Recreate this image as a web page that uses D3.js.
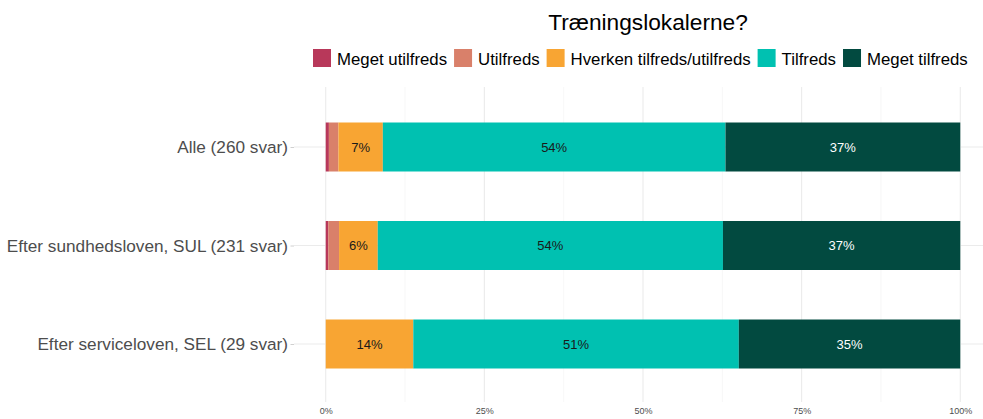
<!DOCTYPE html>
<html>
<head>
<meta charset="utf-8">
<script src="https://cdn.jsdelivr.net/npm/d3@7"></script>
<style>
  body { margin: 0; background: #fff; overflow: hidden; }
  svg { display: block; font-family: "Liberation Sans", Arial, sans-serif; }
</style>
</head>
<body>
<script>
// answer categories, in stacking order
var levels = ["Meget utilfreds", "Utilfreds", "Hverken tilfreds/utilfreds", "Tilfreds", "Meget tilfreds"];
var colors = ["#b8385a", "#d9806a", "#f8a533", "#00c1b1", "#024a40"];
var groups = ["Alle (260 svar)", "Efter sundhedsloven, SUL (231 svar)", "Efter serviceloven, SEL (29 svar)"];

// shares in percent per group (same order as levels)
var alle = [0.5, 1.5, 7.0, 54.0, 37.0];
var sul = [0.4, 1.7, 6.1, 54.4, 37.4];
var sel = [0, 0, 13.8, 51.3, 34.9];

var xTicks = [0, 25, 50, 75, 100];
var xMinor = [12.5, 37.5, 62.5, 87.5];

var rows = [alle, sul, sel];
var W = 983, H = 419;

var svg = d3.select("body").append("svg")
    .attr("width", W)
    .attr("height", H);

var x = d3.scaleLinear().domain([-5, 105]).range([294, 992]);
// band centre positions follow ggplot's discrete scale
var yc = d3.scalePoint().domain(groups).range([147, 344]);

// grid
svg.append("g").selectAll("line.minor")
    .data(xMinor).enter().append("line")
    .attr("x1", function(d) { return x(d) }).attr("x2", function(d) { return x(d) })
    .attr("y1", 87).attr("y2", 402)
    .attr("stroke", "#f2f2f2").attr("stroke-width", 0.6)
svg.append("g").selectAll("line.major")
    .data(xTicks).enter().append("line")
    .attr("x1", function(d) { return x(d) }).attr("x2", function(d) { return x(d) })
    .attr("y1", 87).attr("y2", 402)
    .attr("stroke", "#ebebeb").attr("stroke-width", 1.1)
svg.append("g").selectAll("line.hgrid")
    .data(groups).enter().append("line")
    .attr("x1", 294).attr("x2", 992)
    .attr("y1", function(d) { return yc(d) }).attr("y2", function(d) { return yc(d) })
    .attr("stroke", "#ebebeb").attr("stroke-width", 1.1)

// stacked segments
var barH = 49;
rows.forEach(function(vals, gi) {
    var cum = 0;
    var cy = yc(groups[gi]);
    vals.forEach(function(v, li) {
        var x0 = cum, x1 = cum + v;
        cum = x1;
        if (v <= 0) return;
        svg.append("rect")
            .attr("x", x(x0))
            .attr("y", cy - barH / 2)
            .attr("width", x(x1) - x(x0))
            .attr("height", barH)
            .attr("fill", colors[li])
        if (v >= 3) {
            svg.append("text")
                .attr("x", x((x0 + x1) / 2))
                .attr("y", cy + 4.5)
                .attr("text-anchor", "middle")
                .attr("font-size", 13)
                .attr("fill", li === 4 ? "#ffffff" : "#1a1a1a")
                .text(Math.round(v) + "%")
        }
    })
})

// y axis
var yAxis = svg.append("g")
    .attr("transform", "translate(294,0)")
    .call(d3.axisLeft(yc).tickSize(3.5).tickPadding(2.5))
yAxis.select(".domain").remove()
yAxis.selectAll("line").attr("stroke", "#d0d0d0")
yAxis.selectAll("text").attr("font-size", 17.2).attr("fill", "#4d4d4d")
    .attr("font-family", "Liberation Sans, Arial, sans-serif")

// x axis
var xAxis = svg.append("g")
    .attr("transform", "translate(0,402)")
    .call(d3.axisBottom(x).tickValues(xTicks).tickSize(0).tickPadding(6)
        .tickFormat(function(d) { return d + "%" }))
xAxis.select(".domain").remove()
xAxis.selectAll("text").attr("font-size", 9).attr("fill", "#4d4d4d")
    .attr("font-family", "Liberation Sans, Arial, sans-serif")

// title
svg.append("text")
    .attr("x", 648)
    .attr("y", 30)
    .attr("text-anchor", "middle")
    .attr("font-size", 22.7)
    .attr("fill", "#000")
    .text("Træningslokalerne?")

// legend
var lx = 313;
levels.forEach(function(name, i) {
    svg.append("rect")
        .attr("x", lx).attr("y", 49)
        .attr("width", 18).attr("height", 18)
        .attr("fill", colors[i])
    var t = svg.append("text")
        .attr("x", lx + 24)
        .attr("y", 64.5)
        .attr("font-size", 16.8)
        .attr("fill", "#000")
        .text(name)
    lx = lx + 24 + t.node().getComputedTextLength() + 7;
})
</script>
</body>
</html>
